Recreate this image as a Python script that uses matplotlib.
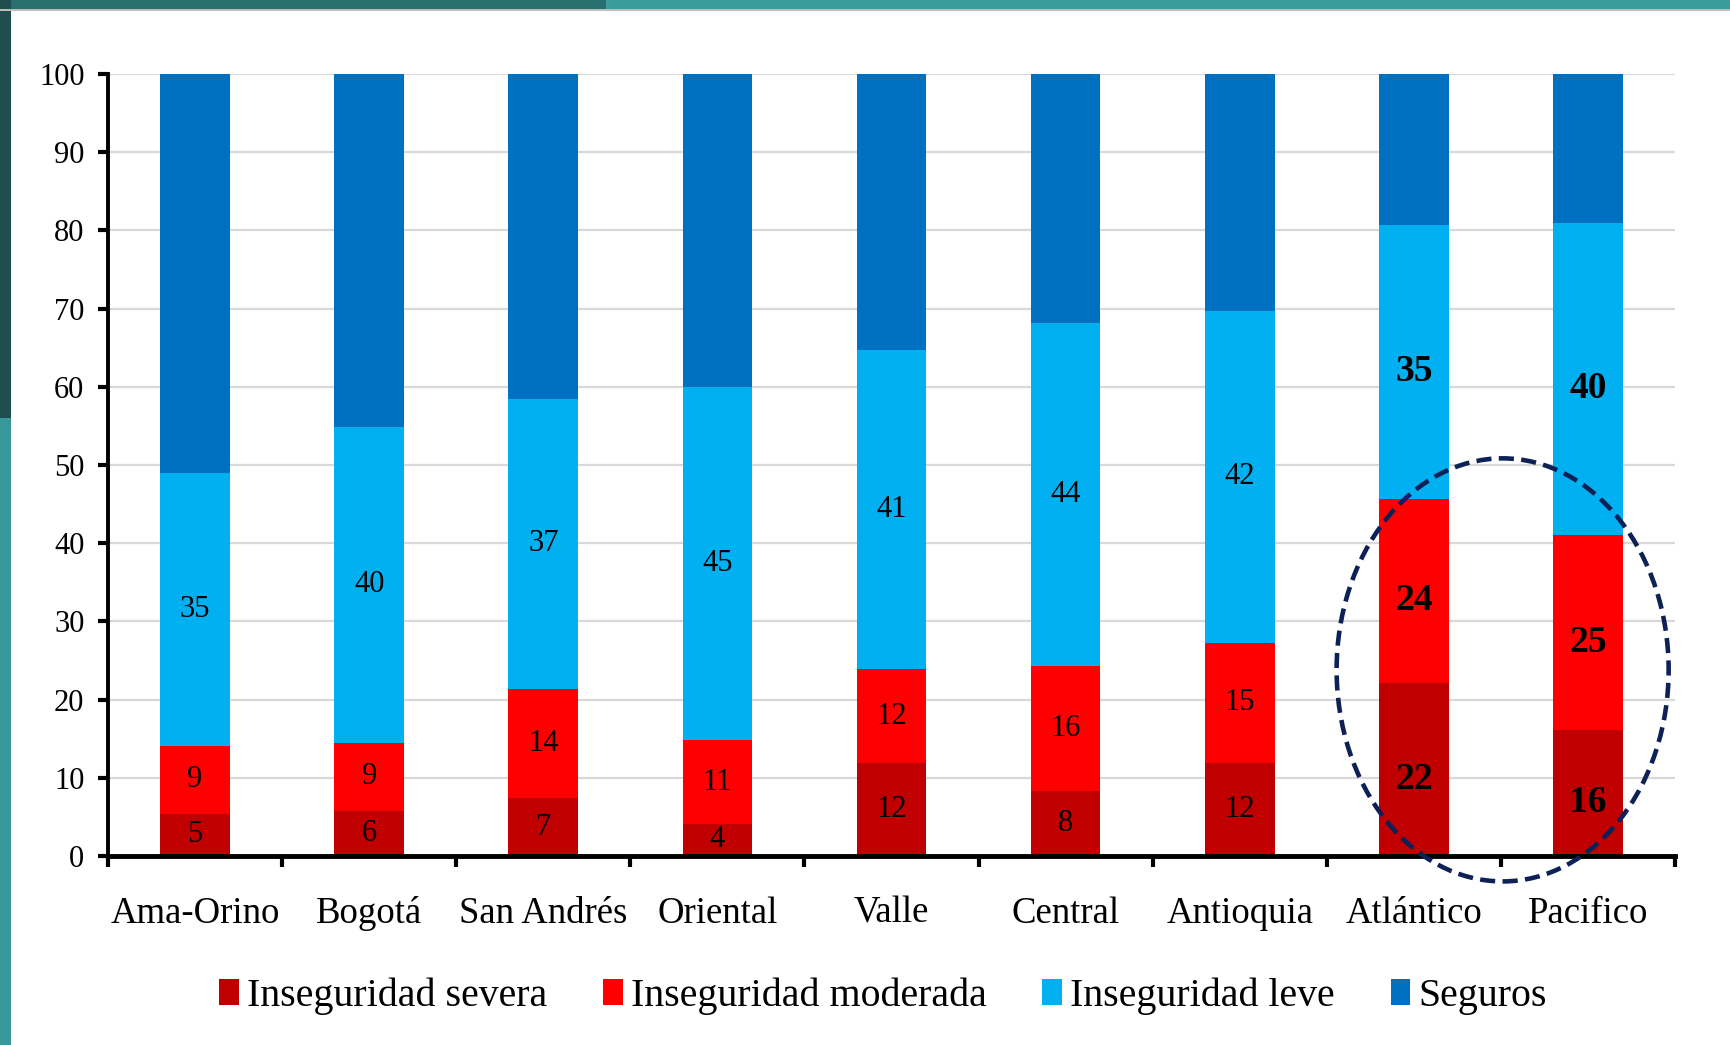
import matplotlib
matplotlib.use("Agg")
import matplotlib.pyplot as plt
import numpy as np
from matplotlib.patches import Ellipse, Rectangle
from matplotlib.ticker import FixedLocator

# ---------------- data ----------------
regions = ["Ama-Orino", "Bogotá", "San Andrés", "Oriental", "Valle",
           "Central", "Antioquia", "Atlántico", "Pacifico"]
severa = [5.4, 5.8, 7.4, 4.1, 11.9, 8.3, 11.9, 22.1, 16.1]
moderada = [8.7, 8.7, 14.0, 10.7, 12.0, 16.0, 15.4, 23.6, 24.9]
leve = [34.9, 40.4, 37.0, 45.2, 40.8, 43.9, 42.4, 35.0, 40.0]
seguros = [100 - a - b - c for a, b, c in zip(severa, moderada, leve)]
series_names = ["Inseguridad severa", "Inseguridad moderada",
                "Inseguridad leve", "Seguros"]
highlight = ["Atlántico", "Pacifico"]
yticks = list(range(0, 101, 10))

colors = ["#C00000", "#FF0000", "#00B0F0", "#0070C0"]
serif = "Liberation Serif"

fig = plt.figure(figsize=(17.31, 10.45), dpi=100)
fig.patch.set_facecolor("white")

# decorative frame (teal band top and left)
fig.add_artist(Rectangle((0, 1 - 9 / 1045), 1, 9 / 1045, transform=fig.transFigure,
                         facecolor="#3c9b9d", edgecolor="none", zorder=0))
fig.add_artist(Rectangle((0, 1 - 9 / 1045), 0.35, 9 / 1045, transform=fig.transFigure,
                         facecolor="#2a6f70", edgecolor="none", zorder=0))
fig.add_artist(Rectangle((0, 0), 11 / 1731, 1, transform=fig.transFigure,
                         facecolor="#3a9799", edgecolor="none", zorder=0))
fig.add_artist(Rectangle((0, 0.6), 11 / 1731, 0.4, transform=fig.transFigure,
                         facecolor="#1f4d4e", edgecolor="none", zorder=0))
fig.add_artist(Rectangle((0, 1 - 11 / 1045), 1, 2 / 1045, transform=fig.transFigure,
                         facecolor="#bdbdbd", edgecolor="none", zorder=0))

ax = fig.add_axes([108 / 1731, 1 - 856 / 1045, (1675 - 108) / 1731, (856 - 74) / 1045])
x = np.arange(len(regions))
width = 0.4

bottom = np.zeros(len(regions))
all_series = [severa, moderada, leve, seguros]
containers = []
for vals, col, name in zip(all_series, colors, series_names):
    c = ax.bar(x, vals, width, bottom=bottom, color=col, label=name, zorder=2)
    containers.append(c)
    bottom = bottom + np.array(vals)

# value labels for first three series
bottom = np.zeros(len(regions))
for vals in all_series[:3]:
    for i, v in enumerate(vals):
        bold = regions[i] in highlight
        ax.annotate(f"{v:.0f}", xy=(x[i], bottom[i] + v / 2),
                    xytext=(0, -7 if bold else 0), textcoords="offset points",
                    ha="center", va="center",
                    fontsize=27 if bold else 22, fontweight="bold" if bold else "normal",
                    family=serif, color="black", zorder=3)
    bottom = bottom + np.array(vals)

ax.set_xlim(-0.5, len(regions) - 0.5)
ax.set_ylim(0, 100)
ax.set_yticks(yticks)
ax.yaxis.grid(True, color="#d9d9d9", lw=1.6, zorder=0)
ax.set_axisbelow(True)

for s in ["top", "right"]:
    ax.spines[s].set_visible(False)
ax.spines["left"].set_linewidth(2.8)
ax.spines["bottom"].set_linewidth(3.5)

ax.set_xticks(x)
ax.set_xticklabels(regions, family=serif, fontsize=26.5)
ax.xaxis.set_minor_locator(FixedLocator(np.arange(-0.5, len(regions), 1.0)))
ax.tick_params(axis="x", which="major", length=0, pad=29)
ax.tick_params(axis="x", which="minor", length=8, width=3, direction="out")
ax.tick_params(axis="y", length=7, width=3, pad=10, labelsize=22)
for lab in ax.get_yticklabels():
    lab.set_family(serif)

# highlight ellipse
ell = Ellipse((7.51, 23.8), 1.907, 54.1, fill=False, edgecolor="#0d2157",
              lw=3.3, ls=(0, (3.3, 1.6)), clip_on=False, zorder=6)
ax.add_patch(ell)

fig.legend(handles=containers, labels=series_names, loc="center",
           bbox_to_anchor=(0.510, 0.0465), ncol=4, frameon=False,
           prop={"family": serif, "size": 28.7}, handlelength=0.5, handleheight=0.65,
           handletextpad=0.2, columnspacing=1.4)

fig.savefig("out.png", dpi=100)
